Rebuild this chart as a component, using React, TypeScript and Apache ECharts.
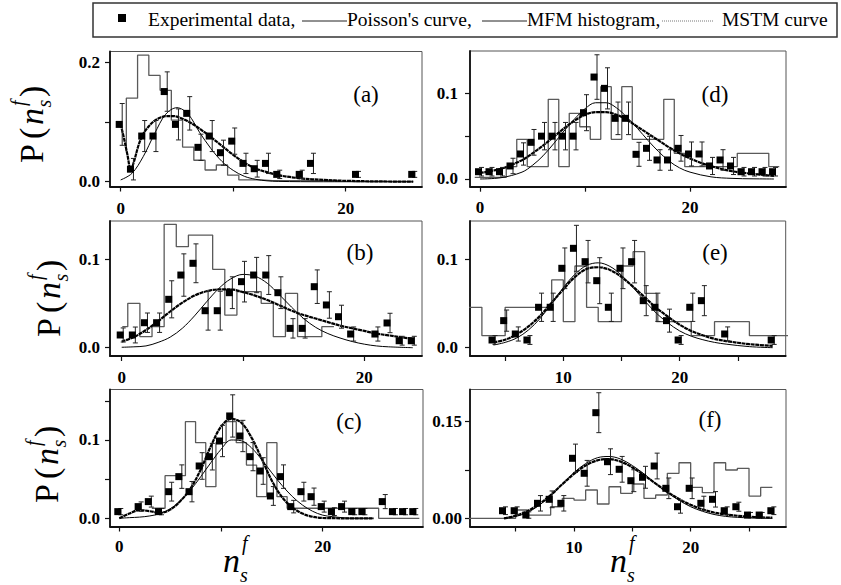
import React, { useEffect, useRef } from "react";
import * as echarts from "echarts";

// ---------------- Panel (a) ----------------
const aExpX = [0, 1, 2, 3, 4, 5, 6, 7, 8, 9, 10, 11, 12, 13, 14, 16, 17, 21, 26];
const aExpY = [0.096, 0.021, 0.0765, 0.0765, 0.151, 0.096, 0.1145, 0.0576, 0.0765, 0.0486, 0.068, 0.0307, 0.0218, 0.0307, 0.0123, 0.0123, 0.0307, 0.0123, 0.0123];
const aExpErr = [0.035, 0.018, 0.026, 0.026, 0.033, 0.026, 0.028, 0.022, 0.026, 0.021, 0.022, 0.017, 0.014, 0.017, 0.007, 0.007, 0.017, 0.005, 0.005];
const aHistLead = [0.5, 0.05];
const aHistStart = 0.5;
const aHistVals = [0.14, 0.212, 0.178, 0.153, 0.103, 0.058, 0.036, 0.0196, 0.028, 0.011, 0.003, 0.003, 0.002, 0.002, 0.002, 0.002, 0.002, 0.002, 0.002];
const aPoisX = [0, 1, 2, 3, 4, 5, 6, 7, 8, 9, 10, 11, 12, 13, 14, 16, 18, 20, 23, 26];
const aPoisY = [0.003, 0.014, 0.042, 0.08, 0.113, 0.124, 0.113, 0.083, 0.056, 0.034, 0.019, 0.009, 0.004, 0.0015, 0.0006, 0.0001, 0, 0, 0, 0];
const aMstmX = [0, 0.3, 0.6, 0.9, 1.2, 1.6, 2, 2.5, 3, 3.5, 4, 4.5, 5, 6, 7, 8, 9, 10, 11, 12, 13, 14, 15, 16, 18, 20, 23, 26];
const aMstmY = [0.096, 0.072, 0.045, 0.02, 0.035, 0.062, 0.08, 0.093, 0.102, 0.107, 0.11, 0.11, 0.109, 0.101, 0.089, 0.075, 0.06, 0.045, 0.032, 0.022, 0.016, 0.011, 0.008, 0.0055, 0.003, 0.0015, 0.0005, 0];

// ---------------- Panel (b) ----------------
const bExpX = [0, 1, 2, 3, 4, 5, 6, 7, 8, 9, 10, 11, 12, 13, 14, 15, 16, 17, 18, 19, 21, 22, 23, 24];
const bExpY = [0.0144, 0.0144, 0.0283, 0.0283, 0.0548, 0.0823, 0.0956, 0.0419, 0.0419, 0.0623, 0.0748, 0.0823, 0.0823, 0.0623, 0.0219, 0.0219, 0.0691, 0.0484, 0.0351, 0.0155, 0.0155, 0.028, 0.0079, 0.0079];
const bExpErr = [0.008, 0.009, 0.011, 0.011, 0.021, 0.024, 0.022, 0.022, 0.022, 0.018, 0.023, 0.02, 0.022, 0.018, 0.011, 0.011, 0.019, 0.015, 0.013, 0.008, 0.008, 0.011, 0.005, 0.005];
const bHistLead = [0.05, 0.0238];
const bHistStart = 0.5;
const bHistVals = [0.0503, 0.0125, 0.0238, 0.1397, 0.1144, 0.1276, 0.1276, 0.0888, 0.037, 0.0634, 0.0634, 0.0503, 0.0125, 0.0615, 0.0125, 0.0125, 0.0238];
const bPoisX = [0, 1, 2, 3, 4, 5, 6, 7, 8, 9, 10, 11, 12, 13, 14, 15, 16, 17, 18, 19, 20, 21, 22, 24];
const bPoisY = [0.0005, 0.001, 0.002, 0.006, 0.012, 0.022, 0.036, 0.052, 0.067, 0.078, 0.083, 0.081, 0.073, 0.06, 0.046, 0.033, 0.023, 0.016, 0.011, 0.007, 0.004, 0.002, 0.001, 0];
const bMstmX = [0, 1, 2, 3, 4, 5, 6, 7, 8, 9, 10, 11, 12, 13, 14, 15, 16, 17, 18, 19, 20, 21, 22, 23, 24];
const bMstmY = [0.007, 0.012, 0.02, 0.03, 0.041, 0.051, 0.059, 0.064, 0.066, 0.066, 0.063, 0.059, 0.054, 0.048, 0.042, 0.037, 0.033, 0.029, 0.025, 0.022, 0.019, 0.016, 0.014, 0.012, 0.01];

// ---------------- Panel (c) ----------------
const cExpX = [0, 2, 3, 4, 5, 6, 7, 8, 9, 10, 11, 12, 13, 14, 15, 16, 17, 18, 19, 20, 21, 22, 23, 24, 26, 27, 28, 29];
const cExpY = [0.0085, 0.0149, 0.0213, 0.0085, 0.034, 0.0532, 0.034, 0.0668, 0.0787, 0.0987, 0.1307, 0.1051, 0.0787, 0.0604, 0.0285, 0.0532, 0.0149, 0.034, 0.0276, 0.0149, 0.0085, 0.0149, 0.0085, 0.0085, 0.0213, 0.0085, 0.0085, 0.0085];
const cExpErr = [0.004, 0.006, 0.007, 0.004, 0.012, 0.015, 0.013, 0.017, 0.017, 0.02, 0.027, 0.02, 0.018, 0.017, 0.012, 0.015, 0.008, 0.012, 0.011, 0.007, 0.005, 0.007, 0.004, 0.004, 0.009, 0.004, 0.004, 0.004];
const cHistLead = [3.2, 0.0128];
const cHistStart = 3.5;
const cHistVals = [0.0128, 0.0544, 0.0544, 0.1234, 0.0966, 0.0404, 0.0966, 0.1234, 0.0966, 0.068, 0.0276, 0.0966, 0.0276, 0.0128, 0.0128, 0.0128, 0.0128, 0.0128, 0.0128, 0.0128, 0.0128, 0.0128, 0, 0, 0, 0];
const cPoisX = [0, 1, 2, 3, 4, 5, 6, 7, 8, 9, 10, 11, 12, 13, 14, 15, 16, 17, 18, 19, 20, 21, 23, 25];
const cPoisY = [0, 0.0008, 0.0015, 0.003, 0.006, 0.012, 0.022, 0.036, 0.053, 0.071, 0.088, 0.1, 0.099, 0.09, 0.075, 0.058, 0.042, 0.028, 0.017, 0.009, 0.004, 0.002, 0, 0];
const cMstmX = [0, 1, 2, 3, 4, 5, 6, 7, 8, 9, 10, 11, 12, 13, 14, 15, 16, 17, 18, 19, 20, 22, 25];
const cMstmY = [0, 0.006, 0.0105, 0.009, 0.007, 0.011, 0.022, 0.038, 0.062, 0.092, 0.117, 0.127, 0.122, 0.103, 0.076, 0.048, 0.027, 0.014, 0.006, 0.002, 0.0005, 0, 0];

// ---------------- Panel (d) ----------------
const dExpX = [0, 1, 2, 3, 4, 5, 6, 7, 8, 9, 10, 11, 12, 13, 14, 15, 16, 17, 18, 19, 20, 21, 22, 23, 24, 25, 26, 27, 28];
const dExpY = [0.0085, 0.0085, 0.0085, 0.0152, 0.0292, 0.0428, 0.05, 0.05, 0.05, 0.05, 0.0774, 0.119, 0.1058, 0.0708, 0.0708, 0.0288, 0.0358, 0.0222, 0.0222, 0.0358, 0.0292, 0.0292, 0.0152, 0.0222, 0.0152, 0.0085, 0.0085, 0.0085, 0.0085];
const dExpErr = [0.005, 0.005, 0.005, 0.009, 0.013, 0.015, 0.016, 0.016, 0.016, 0.016, 0.021, 0.026, 0.024, 0.019, 0.019, 0.014, 0.014, 0.012, 0.012, 0.015, 0.014, 0.014, 0.01, 0.012, 0.01, 0.005, 0.005, 0.005, 0.005];
const dHistLead = [-0.5, 0.002];
const dHistStart = -0.5;
const dHistVals = [0.002, 0.002, 0.002, 0.0144, 0.0463, 0.0144, 0.0144, 0.093, 0.0144, 0.0766, 0.061, 0.0463, 0.1077, 0.0463, 0.1077, 0.0463, 0.0463, 0.0463, 0.093, 0.03, 0.0144, 0.0144, 0.0144, 0.0144, 0.0144, 0.03, 0.03, 0.03, 0.0144];
const dPoisX = [0, 2, 4, 5, 6, 7, 8, 9, 10, 11, 12, 13, 14, 15, 16, 17, 18, 19, 20, 22, 24, 26, 28];
const dPoisY = [0, 0.0015, 0.008, 0.016, 0.027, 0.041, 0.056, 0.07, 0.082, 0.089, 0.089, 0.083, 0.072, 0.059, 0.045, 0.032, 0.021, 0.013, 0.008, 0.0025, 0.0007, 0.0002, 0];
const dMstmX = [0, 2, 4, 5, 6, 7, 8, 9, 10, 11, 12, 13, 14, 15, 16, 17, 18, 19, 20, 21, 22, 24, 26, 28];
const dMstmY = [0.007, 0.012, 0.022, 0.03, 0.039, 0.049, 0.059, 0.068, 0.075, 0.078, 0.078, 0.075, 0.069, 0.061, 0.053, 0.045, 0.037, 0.03, 0.024, 0.019, 0.015, 0.009, 0.006, 0.0035];

// ---------------- Panel (e) ----------------
const eExpX = [4, 5, 6, 7, 8, 9, 10, 11, 12, 13, 14, 15, 16, 17, 18, 19, 20, 21, 22, 24, 28];
const eExpY = [0.0087, 0.0306, 0.0155, 0.0087, 0.0457, 0.0457, 0.0898, 0.1124, 0.0973, 0.0758, 0.0457, 0.0898, 0.0973, 0.0532, 0.0457, 0.0306, 0.0087, 0.0457, 0.0532, 0.0155, 0.0087];
const eExpErr = [0.005, 0.012, 0.008, 0.005, 0.016, 0.016, 0.023, 0.026, 0.024, 0.026, 0.016, 0.023, 0.024, 0.017, 0.016, 0.013, 0.005, 0.016, 0.017, 0.008, 0.005];
const eHistLead = [1, 0.0457];
const eHistStart = 1;
const eHistVals = [0.0457, 0.0457, 0.0136, 0.0136, 0.0457, 0.0457, 0.0457, 0.0457, 0.0766, 0.0294, 0.0924, 0.0457, 0.0294, 0.0294, 0.0924, 0.1086, 0.0615, 0.0294, 0.0294, 0.0294, 0.0136, 0.0136, 0.0294, 0.0294, 0.0294, 0.0136, 0.0136, 0.0136, 0.0136];
const ePoisX = [4, 5, 6, 7, 8, 9, 10, 11, 12, 13, 14, 15, 16, 17, 18, 19, 20, 21, 22, 23, 24, 26, 28];
const ePoisY = [0.003, 0.006, 0.011, 0.02, 0.033, 0.05, 0.068, 0.083, 0.093, 0.096, 0.092, 0.082, 0.068, 0.053, 0.039, 0.028, 0.019, 0.013, 0.009, 0.006, 0.004, 0.0012, 0];
const eMstmX = [4, 5, 6, 7, 8, 9, 10, 11, 12, 13, 14, 15, 16, 17, 18, 19, 20, 21, 22, 23, 24, 26, 28];
const eMstmY = [0.006, 0.009, 0.015, 0.024, 0.036, 0.051, 0.066, 0.08, 0.089, 0.091, 0.088, 0.08, 0.069, 0.057, 0.045, 0.035, 0.026, 0.019, 0.014, 0.01, 0.0075, 0.004, 0.002];

// ---------------- Panel (f) ----------------
const fExpX = [4, 5, 6, 7, 8, 9, 10, 11, 12, 13, 14, 15, 16, 17, 18, 19, 20, 21, 22, 23, 24, 25, 26, 27];
const fExpY = [0.0118, 0.0118, 0.0051, 0.0233, 0.0295, 0.0233, 0.0932, 0.0699, 0.164, 0.0879, 0.0761, 0.0584, 0.0637, 0.0812, 0.0466, 0.018, 0.0466, 0.0233, 0.0295, 0.0118, 0.018, 0.0051, 0.0051, 0.0118];
const fExpErr = [0.006, 0.006, 0.005, 0.012, 0.013, 0.012, 0.022, 0.02, 0.031, 0.02, 0.02, 0.017, 0.017, 0.02, 0.016, 0.01, 0.016, 0.011, 0.012, 0.006, 0.007, 0.004, 0.004, 0.006];
const fHistLead = [1, 0];
const fHistStart = 1;
const fHistVals = [0, 0, 0, 0, 0.0129, 0.0051, 0.0051, 0.018, 0.031, 0.0284, 0.044, 0.0222, 0.049, 0.0388, 0.0533, 0.031, 0.0362, 0.0699, 0.0863, 0.0481, 0.0398, 0.0863, 0.075, 0.0776, 0.0346, 0.0481];
const fPoisX = [4, 5, 6, 7, 8, 9, 10, 11, 12, 13, 14, 15, 16, 17, 18, 19, 20, 21, 22, 23, 24, 25, 26, 27];
const fPoisY = [0, 0.003, 0.009, 0.02, 0.035, 0.053, 0.071, 0.085, 0.094, 0.096, 0.092, 0.082, 0.069, 0.054, 0.04, 0.028, 0.018, 0.011, 0.006, 0.003, 0.0015, 0.0007, 0.0002, 0];
const fMstmX = [4, 5, 6, 7, 8, 9, 10, 11, 12, 13, 14, 15, 16, 17, 18, 19, 20, 21, 22, 23, 24, 25, 26, 27];
const fMstmY = [0, 0.004, 0.011, 0.022, 0.036, 0.053, 0.069, 0.082, 0.09, 0.092, 0.088, 0.079, 0.067, 0.054, 0.041, 0.03, 0.021, 0.014, 0.009, 0.006, 0.004, 0.0025, 0.0015, 0.001];

// ---------------- Legend / labels ----------------
const legendNames = ["Experimental data,", "Poisson's curve,", "MFM histogram,", "MSTM curve"];
const panelLetters = ["(a)", "(b)", "(c)", "(d)", "(e)", "(f)"];

const SERIF = "Liberation Serif";

type Panel = {
  grid: { left: number; top: number; width: number; height: number };
  xMin: number; xMax: number; yMin: number; yMax: number;
  xTicks: number[]; xLabels: number[]; yTicks: number[]; yLabels: number[];
  yDigits: number; xMargin: number; yMargin: number;
  ex: number[]; ey: number[]; ee: number[];
  hLead: number[]; hStart: number; hVals: number[];
  px: number[]; py: number[]; mx: number[]; my: number[];
  letterPos: number[];
};

const panels: Panel[] = [
  { grid: { left: 110, top: 51.5, width: 312, height: 135 }, xMin: -0.951, xMax: 26.78, yMin: -0.008, yMax: 0.2181,
    xTicks: [0, 10, 20], xLabels: [0, 20], yTicks: [0, 0.1, 0.2], yLabels: [0, 0.2], yDigits: 1, xMargin: 13, yMargin: 10,
    ex: aExpX, ey: aExpY, ee: aExpErr, hLead: aHistLead, hStart: aHistStart, hVals: aHistVals,
    px: aPoisX, py: aPoisY, mx: aMstmX, my: aMstmY, letterPos: [366, 94] },
  { grid: { left: 110, top: 221, width: 312, height: 135 }, xMin: -0.965, xMax: 24.76, yMin: -0.0094, yMax: 0.1435,
    xTicks: [0, 10, 20], xLabels: [0, 20], yTicks: [0, 0.1], yLabels: [0, 0.1], yDigits: 1, xMargin: 13, yMargin: 10,
    ex: bExpX, ey: bExpY, ee: bExpErr, hLead: bHistLead, hStart: bHistStart, hVals: bHistVals,
    px: bPoisX, py: bPoisY, mx: bMstmX, my: bMstmY, letterPos: [360, 252] },
  { grid: { left: 110, top: 389.5, width: 313, height: 137 }, xMin: -0.914, xMax: 29.86, yMin: -0.0105, yMax: 0.1645,
    xTicks: [0, 10, 20], xLabels: [0, 20], yTicks: [0, 0.05, 0.1, 0.15], yLabels: [0, 0.1], yDigits: 1, xMargin: 11, yMargin: 10,
    ex: cExpX, ey: cExpY, ee: cExpErr, hLead: cHistLead, hStart: cHistStart, hVals: cHistVals,
    px: cPoisX, py: cPoisY, mx: cMstmX, my: cMstmY, letterPos: [349, 421] },
  { grid: { left: 470, top: 51, width: 316, height: 135.7 }, xMin: -0.952, xMax: 29.14, yMin: -0.009, yMax: 0.1494,
    xTicks: [0, 10, 20], xLabels: [0, 20], yTicks: [0, 0.05, 0.1], yLabels: [0, 0.1], yDigits: 1, xMargin: 12, yMargin: 12,
    ex: dExpX, ey: dExpY, ee: dExpErr, hLead: dHistLead, hStart: dHistStart, hVals: dHistVals,
    px: dPoisX, py: dPoisY, mx: dMstmX, my: dMstmY, letterPos: [715, 94] },
  { grid: { left: 470, top: 221, width: 315.7, height: 135 }, xMin: 1.977, xMax: 29.12, yMin: -0.0094, yMax: 0.1433,
    xTicks: [5, 10, 15, 20, 25], xLabels: [10, 20], yTicks: [0, 0.1], yLabels: [0, 0.1], yDigits: 1, xMargin: 13, yMargin: 12,
    ex: eExpX, ey: eExpY, ee: eExpErr, hLead: eHistLead, hStart: eHistStart, hVals: eHistVals,
    px: ePoisX, py: ePoisY, mx: eMstmX, my: eMstmY, letterPos: [715, 252] },
  { grid: { left: 470, top: 389.5, width: 316, height: 137 }, xMin: 1.088, xMax: 28.17, yMin: -0.0127, yMax: 0.2,
    xTicks: [5, 10, 15, 20, 25], xLabels: [10, 20], yTicks: [0, 0.075, 0.15], yLabels: [0, 0.15], yDigits: 2, xMargin: 12, yMargin: 8,
    ex: fExpX, ey: fExpY, ee: fExpErr, hLead: fHistLead, hStart: fHistStart, hVals: fHistVals,
    px: fPoisX, py: fPoisY, mx: fMstmX, my: fMstmY, letterPos: [710, 419] },
];

const zip = (xs: number[], ys: number[]) => xs.map((x, i) => [x, ys[i]]);
const stepPoints = (lead: number[], start: number, vals: number[]) => {
  const pts: number[][] = [[lead[0], lead[1]], [start, lead[1]]];
  vals.forEach((v, i) => {
    pts.push([start + i, v]);
    pts.push([start + i + 1, v]);
  });
  return pts;
};

const txt = (text: string, x: number, y: number, size: number, style = "normal", align = "left", weight = "normal") => ({
  type: "text",
  style: {
    text, x, y, fill: "#000",
    fontSize: size, fontFamily: SERIF, fontStyle: style, fontWeight: weight,
    align, textAlign: align, verticalAlign: "middle", textVerticalAlign: "middle",
  },
});

const yTitle = (x0: number, y0: number) => ({
  type: "group", x: x0, y: y0, rotation: Math.PI / 2,
  children: [
    txt("P", 0, -11.5, 34),
    txt("(", 24, -11.5, 34),
    txt("n", 38, -11.5, 34, "italic"),
    txt("s", 55.5, 1, 20, "italic"),
    txt("f", 57, -25, 20, "italic"),
    txt(")", 66, -11.5, 34),
  ],
});

const xTitle = (x0: number) => ({
  type: "group", x: x0, y: 572,
  children: [
    txt("n", 0, -11.5, 34, "italic"),
    txt("s", 17, 3, 20, "italic"),
    txt("f", 19, -29, 20, "italic"),
  ],
});

export default function App() {
  const ref = useRef<HTMLDivElement>(null);
  useEffect(() => {
    if (!ref.current) return;
    const chart = echarts.init(ref.current, null, { renderer: "svg" });

    const grids: any[] = [];
    const xAxes: any[] = [];
    const yAxes: any[] = [];
    const series: any[] = [];
    const labelStyle = { fontFamily: SERIF, fontWeight: "bold", fontSize: 17, color: "#000" };

    panels.forEach((p, i) => {
      grids.push({ ...p.grid, show: true, borderColor: "#555", borderWidth: 1, containLabel: false, outerBoundsMode: "none" });
      xAxes.push({
        type: "value", gridIndex: i, min: p.xMin, max: p.xMax, position: "bottom",
        splitLine: { show: false },
        axisLine: { show: true, onZero: false, lineStyle: { color: "#111", width: 1.8 } },
        axisTick: { show: true, inside: false, length: 5, customValues: p.xTicks, lineStyle: { color: "#111", width: 1.2 } },
        axisLabel: { ...labelStyle, margin: p.xMargin, customValues: p.xLabels, formatter: (v: number) => String(Math.round(v)) },
      });
      yAxes.push({
        type: "value", gridIndex: i, min: p.yMin, max: p.yMax, position: "left",
        splitLine: { show: false },
        axisLine: { show: true, onZero: false, lineStyle: { color: "#111", width: 1.8 } },
        axisTick: { show: true, inside: false, length: 5, customValues: p.yTicks, lineStyle: { color: "#111", width: 1.2 } },
        axisLabel: { ...labelStyle, margin: p.yMargin, customValues: p.yLabels, formatter: (v: number) => v.toFixed(p.yDigits) },
      });
      series.push({
        type: "line", name: legendNames[2], xAxisIndex: i, yAxisIndex: i, data: stepPoints(p.hLead, p.hStart, p.hVals),
        showSymbol: false, symbol: "none", clip: true, lineStyle: { color: "#5a5a5a", width: 1.3 }, z: 2,
      });
      series.push({
        type: "line", name: legendNames[1], xAxisIndex: i, yAxisIndex: i, data: zip(p.px, p.py),
        showSymbol: false, symbol: "none", smooth: 0.35, clip: true, lineStyle: { color: "#000", width: 1 }, z: 3,
      });
      series.push({
        type: "line", name: legendNames[3], xAxisIndex: i, yAxisIndex: i, data: zip(p.mx, p.my),
        showSymbol: false, symbol: "none", smooth: 0.35, clip: true, lineStyle: { color: "#000", width: 2.2, type: [4, 0.6] }, z: 4,
      });
      series.push({
        type: "custom", xAxisIndex: i, yAxisIndex: i, clip: true, z: 5,
        data: p.ex.map((x, k) => [x, p.ey[k], p.ee[k]]),
        encode: { x: 0, y: 1 },
        renderItem: (_params: any, api: any) => {
          const x = api.value(0), y = api.value(1), e = api.value(2);
          const top = api.coord([x, y + e]);
          const bot = api.coord([x, y - e]);
          const cx = top[0] + 1.5;
          const st = { stroke: "#222", lineWidth: 1, fill: "none" };
          return {
            type: "group",
            children: [
              { type: "line", shape: { x1: cx, y1: top[1], x2: cx, y2: bot[1] }, style: st },
              { type: "line", shape: { x1: cx - 2.5, y1: top[1], x2: cx + 2.5, y2: top[1] }, style: st },
              { type: "line", shape: { x1: cx - 2.5, y1: bot[1], x2: cx + 2.5, y2: bot[1] }, style: st },
            ],
          };
        },
      });
      series.push({
        type: "scatter", name: legendNames[0], xAxisIndex: i, yAxisIndex: i, data: zip(p.ex, p.ey),
        symbol: "rect", symbolSize: 7, symbolOffset: [-1.5, 0], itemStyle: { color: "#000", opacity: 1 }, z: 6,
      });
    });

    const graphic: any[] = [
      { type: "rect", shape: { x: 93, y: 3, width: 744, height: 34 }, style: { fill: "#fff", stroke: "#333", lineWidth: 1.5 }, z: 0 },
      { type: "rect", shape: { x: 118, y: 14, width: 8, height: 8 }, style: { fill: "#000" } },
      txt(legendNames[0], 148, 19.5, 19.5),
      { type: "line", shape: { x1: 302, y1: 21, x2: 347, y2: 21 }, style: { stroke: "#222", lineWidth: 1 } },
      txt(legendNames[1], 347, 19.5, 19.5),
      { type: "line", shape: { x1: 482, y1: 21, x2: 527, y2: 21 }, style: { stroke: "#222", lineWidth: 1 } },
      txt(legendNames[2], 527, 19.5, 19.5),
      { type: "line", shape: { x1: 662, y1: 21, x2: 713, y2: 21 }, style: { stroke: "#777", lineWidth: 1, lineDash: [1, 1] } },
      txt(legendNames[3], 722, 19.5, 19.5),
      yTitle(43, 163),
      yTitle(60, 337),
      yTitle(58, 503),
      xTitle(223),
      xTitle(610),
    ];
    panels.forEach((p, i) => {
      graphic.push(txt(panelLetters[i], p.letterPos[0], p.letterPos[1], 23, "normal", "center"));
    });

    chart.setOption({
      animation: false,
      backgroundColor: "#fff",
      textStyle: { fontFamily: SERIF },
      grid: grids,
      xAxis: xAxes,
      yAxis: yAxes,
      series,
      graphic,
    });
    return () => chart.dispose();
  }, []);

  return <div ref={ref} style={{ position: "absolute", left: 0, top: 0, width: 841, height: 585 }} />;
}
